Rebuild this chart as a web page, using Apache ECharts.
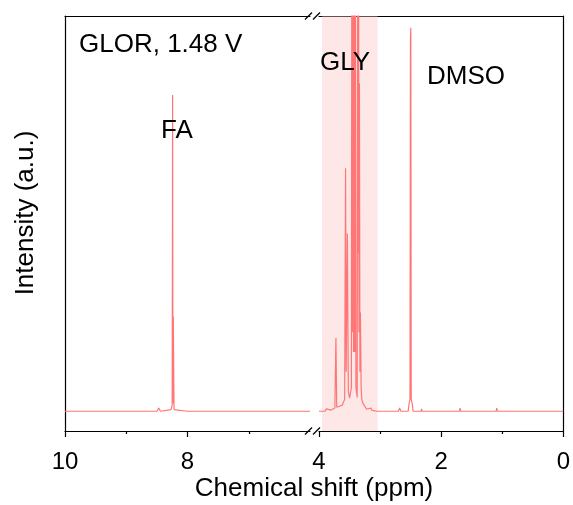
<!DOCTYPE html>
<html>
<head>
<meta charset="utf-8">
<title>GLOR NMR</title>
<script src="https://cdn.jsdelivr.net/npm/echarts@6.0.0/dist/echarts.min.js"></script>
<style>
  html, body { margin: 0; padding: 0; background: #fff; }
  #main { width: 573px; height: 505px; }
</style>
</head>
<body>
<div id="main"></div>
<script>
// spectrum, left part of the broken axis (10 -> 6 ppm)
var leftShift = [10, 8.50, 8.47, 8.44, 8.27, 8.25, 8.243, 8.238, 8.232, 8.22, 8.00, 7.98, 7.96, 6];
var leftInt   = [0,  0,    0.8,  0,    0.4,  1.5,  80,    2,     24,    0.4,  0,    0.5,  0,    0];

// spectrum, right part (4 -> 0 ppm): GLY multiplets and DMSO
var rightShift = [4, 3.90, 3.88, 3.86, 3.80, 3.74, 3.723, 3.71, 3.62, 3.58, 3.565, 3.555, 3.535, 3.52, 3.50,
                  3.47, 3.462, 3.455, 3.445, 3.435, 3.425, 3.415, 3.405, 3.395, 3.375, 3.365, 3.358, 3.352,
                  3.345, 3.338, 3.33, 3.322, 3.31, 3.30, 3.28, 3.25, 3.22, 3.15, 3.13, 3.05,
                  2.70, 2.68, 2.66, 2.54, 2.525, 2.51, 2.503, 2.497, 2.49, 2.475, 2.46,
                  2.33, 2.32, 2.31, 1.70, 1.69, 1.68, 1.10, 1.09, 1.08, 0];
var rightInt   = [0, 0,    0.6,  0.2,  0.3,  0.8,  18.5,  1,    1.5,  3,    61.5,  10,    45,    5,    3.3,
                  6,    130,   20,    140,   15,    130,   15,    130,   6,     3.5,   130,   40,    130,
                  20,    83,    10,   25,    6,    3,    2,    1.5,  0.5,  0.8,  0.2,  0,
                  0,    0.8,  0,    0,    2,     3,    94,    97,    3,    2,     0,
                  0,    0.6,  0,    0,    0.8,  0,    0,    0.8,  0,    0];

var glyBand = [3.95, 3.04];
var leftTickLabels = [8, 10];
var rightTickLabels = [0, 2, 4];

var lineColor = '#ff7676';
var font = "'Liberation Sans', Arial, sans-serif";

function pairs(xs, ys) {
  return xs.map(function (x, i) { return [x, ys[i]]; });
}

function bottomAxis(grid, min, max, ticks) {
  return {
    type: 'value', gridIndex: grid, position: 'bottom',
    min: min, max: max, interval: 2, inverse: true,
    axisLine: { show: true, onZero: false, lineStyle: { color: '#000', width: 1.2 } },
    axisTick: { show: true, length: 6, customValues: ticks, lineStyle: { color: '#000', width: 1.2 } },
    minorTick: { show: true, splitNumber: 2, length: 3, lineStyle: { color: '#000', width: 1.2 } },
    axisLabel: { customValues: ticks, margin: 19, fontSize: 24, color: '#000', fontFamily: font },
    splitLine: { show: false }
  };
}

function topAxis(grid, min, max) {
  return {
    type: 'value', gridIndex: grid, position: 'top',
    min: min, max: max, inverse: true,
    axisLine: { show: true, onZero: false, lineStyle: { color: '#000', width: 1.2 } },
    axisTick: { show: false }, axisLabel: { show: false }, splitLine: { show: false }
  };
}

function sideAxis(grid, pos) {
  return {
    type: 'value', gridIndex: grid, position: pos, min: -5, max: 100,
    axisLine: { show: true, onZero: false, lineStyle: { color: '#000', width: 1.2 } },
    axisTick: { show: false }, axisLabel: { show: false }, splitLine: { show: false }
  };
}

function slashes(y) {
  var st = { stroke: '#000', lineWidth: 1.2 };
  return [
    { type: 'line', shape: { x1: 305, y1: y + 3.5, x2: 312, y2: y - 3.5 }, style: st, z: 10 },
    { type: 'line', shape: { x1: 313, y1: y + 3.5, x2: 320, y2: y - 3.5 }, style: st, z: 10 }
  ];
}

function label(text, x, y, extra) {
  var s = { text: text, x: x, y: y, fill: '#000', font: '26px ' + font,
            textAlign: 'left', textVerticalAlign: 'middle' };
  for (var k in extra) s[k] = extra[k];
  return { type: 'text', style: s, z: 20 };
}

var myChart = echarts.init(document.getElementById('main'));

myChart.setOption({
  animation: false,
  backgroundColor: '#fff',
  grid: [
    { left: 65, top: 16, width: 245, height: 415 },
    { left: 319, top: 16, width: 245, height: 415 }
  ],
  xAxis: [
    bottomAxis(0, 6, 10, leftTickLabels),
    bottomAxis(1, 0, 4, rightTickLabels),
    topAxis(0, 6, 10),
    topAxis(1, 0, 4)
  ],
  yAxis: [sideAxis(0, 'left'), sideAxis(1, 'right')],
  series: [
    {
      type: 'line', xAxisIndex: 0, yAxisIndex: 0,
      data: pairs(leftShift, leftInt),
      showSymbol: false, lineStyle: { color: lineColor, width: 1.2 }
    },
    {
      type: 'line', xAxisIndex: 1, yAxisIndex: 1,
      data: pairs(rightShift, rightInt),
      showSymbol: false, lineStyle: { color: lineColor, width: 1.2 },
      markArea: {
        silent: true,
        itemStyle: { color: 'rgba(250, 195, 195, 0.4)' },
        data: [[{ xAxis: glyBand[0] }, { xAxis: glyBand[1] }]]
      }
    }
  ],
  graphic: slashes(16).concat(slashes(431)).concat([
    label('GLOR, 1.48 V', 79, 45),
    label('FA', 161, 131),
    label('GLY', 320, 63),
    label('DMSO', 427, 77),
    label('Chemical shift (ppm)', 314, 489, { textAlign: 'center' }),
    { type: 'text', x: 26, y: 213, rotation: Math.PI / 2,
      style: { text: 'Intensity (a.u.)', fill: '#000', font: '26px ' + font,
               textAlign: 'center', textVerticalAlign: 'middle' }, z: 20 }
  ])
});
</script>
</body>
</html>
